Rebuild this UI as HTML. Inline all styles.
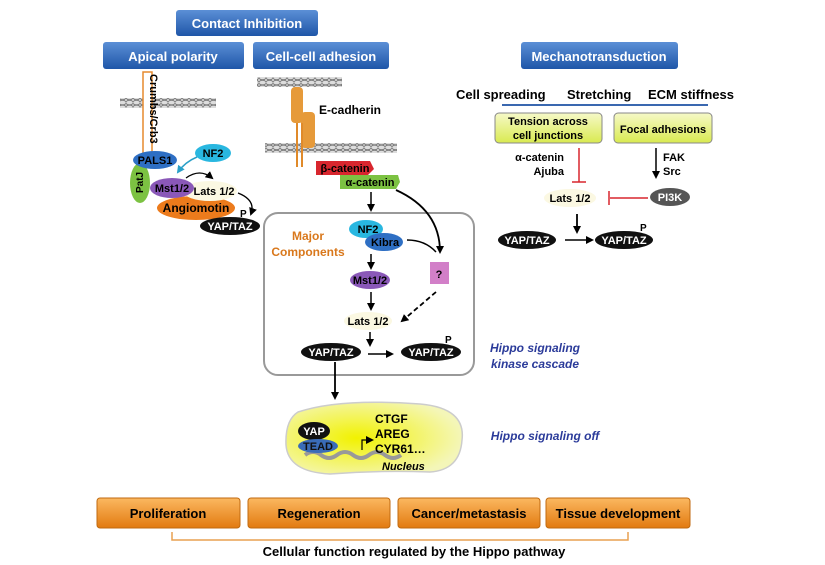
<!DOCTYPE html>
<html><head><meta charset="utf-8"><style>
body{margin:0;background:#fff}
svg{display:block;font-family:"Liberation Sans",sans-serif;font-weight:bold}
</style></head><body>
<svg width="825" height="565" viewBox="0 0 825 565" xmlns="http://www.w3.org/2000/svg">
<defs>
<linearGradient id="bl" x1="0" y1="0" x2="0" y2="1"><stop offset="0" stop-color="#5b8fd6"/><stop offset="1" stop-color="#1f56a8"/></linearGradient>
<linearGradient id="or" x1="0" y1="0" x2="0" y2="1"><stop offset="0" stop-color="#fbb860"/><stop offset="1" stop-color="#e27a10"/></linearGradient>
<linearGradient id="yl" x1="0" y1="0" x2="0" y2="1"><stop offset="0" stop-color="#f6f9c8"/><stop offset="1" stop-color="#d9ea50"/></linearGradient>
<radialGradient id="nuc" cx="0.4" cy="0.5" r="0.6"><stop offset="0" stop-color="#f2f200"/><stop offset="1" stop-color="#f4f6b8"/></radialGradient>
<marker id="ar" markerWidth="8" markerHeight="8" refX="6" refY="4" orient="auto" markerUnits="userSpaceOnUse"><path d="M0,0 L8,4 L0,8z" fill="#000"/></marker>
<marker id="arc" markerWidth="8" markerHeight="8" refX="6" refY="4" orient="auto" markerUnits="userSpaceOnUse"><path d="M0,0 L8,4 L0,8z" fill="#2aa0c8"/></marker>
<pattern id="mem" width="7" height="10" patternUnits="userSpaceOnUse"><ellipse cx="3.5" cy="2.6" rx="3.8" ry="2.3" fill="#ddd" stroke="#777" stroke-width="1"/><ellipse cx="3.5" cy="7.4" rx="3.8" ry="2.3" fill="#ddd" stroke="#777" stroke-width="1"/></pattern>
</defs>
<!-- header boxes -->
<g font-size="13" fill="#fff" text-anchor="middle">
<rect x="176" y="10" width="142" height="26" rx="3" fill="url(#bl)"/><text x="247" y="28">Contact Inhibition</text>
<rect x="103" y="42" width="141" height="27" rx="3" fill="url(#bl)"/><text x="173" y="61">Apical polarity</text>
<rect x="253" y="42" width="136" height="27" rx="3" fill="url(#bl)"/><text x="321" y="61">Cell-cell adhesion</text>
<rect x="521" y="42" width="157" height="27" rx="3" fill="url(#bl)"/><text x="599" y="61">Mechanotransduction</text>
</g>
<!-- membranes -->
<rect x="120" y="98" width="96" height="10" fill="url(#mem)"/>
<rect x="257" y="77" width="85" height="10" fill="url(#mem)"/>
<rect x="265" y="143" width="132" height="10" fill="url(#mem)"/>
<!-- crumbs -->
<rect x="143" y="72" width="9" height="88" fill="#fff" stroke="#e58a2e" stroke-width="1.5"/>
<text transform="translate(150,74) rotate(90)" font-size="11">Crumbs/Crb3</text>
<!-- apical complex -->
<ellipse cx="140" cy="183" rx="10" ry="20" fill="#7cc242"/><text transform="translate(143,193) rotate(-90)" font-size="10">PatJ</text>
<ellipse cx="155" cy="160" rx="22" ry="9" fill="#2e6fc4"/><text x="155" y="164" font-size="11" fill="#000" text-anchor="middle">PALS1</text>
<ellipse cx="213" cy="153" rx="18" ry="9" fill="#29b7e0"/><text x="213" y="157" font-size="11" text-anchor="middle">NF2</text>
<path d="M197,157 Q185,162 178,172" fill="none" stroke="#2aa0c8" stroke-width="1.5" marker-end="url(#arc)"/>
<ellipse cx="196" cy="208" rx="39" ry="12" fill="#ec7b1c"/><text x="196" y="212" font-size="12" text-anchor="middle">Angiomotin</text>
<ellipse cx="210" cy="191" rx="27" ry="10" fill="#fbf8e2"/><text x="214" y="195" font-size="11" text-anchor="middle">Lats 1/2</text>
<ellipse cx="172" cy="188" rx="22" ry="10" fill="#8a58b8"/><text x="172" y="192" font-size="11" text-anchor="middle">Mst1/2</text>
<path d="M186,178 Q200,168 212,178" fill="none" stroke="#000" stroke-width="1.3" marker-end="url(#ar)"/>
<path d="M238,193 Q256,200 251,214" fill="none" stroke="#000" stroke-width="1.3" marker-end="url(#ar)"/>
<ellipse cx="230" cy="226" rx="30" ry="9" fill="#111"/><text x="230" y="230" font-size="11" fill="#fff" text-anchor="middle">YAP/TAZ</text><text x="240" y="217" font-size="10">P</text>
<!-- E-cadherin -->
<g fill="#e69a3a">
<rect x="291" y="87" width="12" height="36" rx="4"/><rect x="301" y="112" width="14" height="36" rx="4"/>
</g>
<line x1="297" y1="123" x2="297" y2="167" stroke="#e08a2a" stroke-width="2"/><line x1="302" y1="123" x2="302" y2="167" stroke="#e08a2a" stroke-width="2"/>
<text x="319" y="114" font-size="12">E-cadherin</text>
<polygon points="316,161 370,161 374,169 368,175 316,175" fill="#d8262e"/><text x="345" y="172" font-size="11" text-anchor="middle">β-catenin</text>
<polygon points="340,175 398,175 400,182 396,189 340,189" fill="#7cc242"/><text x="370" y="186" font-size="11" text-anchor="middle">α-catenin</text>
<!-- central box -->
<rect x="264" y="213" width="210" height="162" rx="14" fill="#fff" stroke="#999" stroke-width="2"/>
<line x1="371" y1="192" x2="371" y2="210" stroke="#000" stroke-width="1.5" marker-end="url(#ar)"/>
<path d="M396,190 Q440,210 440,252" fill="none" stroke="#000" stroke-width="1.8" marker-end="url(#ar)"/>
<text x="308" y="240" font-size="12" fill="#d9781c" text-anchor="middle">Major</text><text x="308" y="256" font-size="12" fill="#d9781c" text-anchor="middle">Components</text>
<ellipse cx="366" cy="229" rx="17" ry="9" fill="#29b7e0"/><text x="368" y="233" font-size="11" text-anchor="middle">NF2</text>
<ellipse cx="384" cy="242" rx="19" ry="9" fill="#2e6fc4"/><text x="385" y="246" font-size="11" text-anchor="middle">Kibra</text>
<path d="M407,240 Q425,240 436,252" fill="none" stroke="#000" stroke-width="1.5"/>
<line x1="371" y1="254" x2="371" y2="268" stroke="#000" stroke-width="1.5" marker-end="url(#ar)"/>
<ellipse cx="370" cy="280" rx="20" ry="9" fill="#8a58b8"/><text x="370" y="284" font-size="11" text-anchor="middle">Mst1/2</text>
<rect x="430" y="262" width="19" height="22" fill="#d27fc8"/><text x="439" y="278" font-size="11" text-anchor="middle">?</text>
<line x1="371" y1="292" x2="371" y2="309" stroke="#000" stroke-width="1.5" marker-end="url(#ar)"/>
<ellipse cx="368" cy="321" rx="24" ry="9" fill="#fbf8e2"/><text x="368" y="325" font-size="11" text-anchor="middle">Lats 1/2</text>
<line x1="436" y1="292" x2="402" y2="321" stroke="#000" stroke-width="1.8" stroke-dasharray="5,3" marker-end="url(#ar)"/>
<line x1="370" y1="332" x2="370" y2="345" stroke="#000" stroke-width="1.5" marker-end="url(#ar)"/>
<ellipse cx="331" cy="352" rx="30" ry="9" fill="#111"/><text x="331" y="356" font-size="11" fill="#fff" text-anchor="middle">YAP/TAZ</text>
<line x1="368" y1="354" x2="392" y2="354" stroke="#000" stroke-width="1.5" marker-end="url(#ar)"/>
<ellipse cx="431" cy="352" rx="30" ry="9" fill="#111"/><text x="431" y="356" font-size="11" fill="#fff" text-anchor="middle">YAP/TAZ</text><text x="445" y="343" font-size="10">P</text>
<g font-size="12" font-style="italic" fill="#2b3b9a" text-anchor="middle"><text x="535" y="352">Hippo signaling</text><text x="535" y="368">kinase cascade</text><text x="545" y="440">Hippo signaling off</text></g>
<line x1="335" y1="362" x2="335" y2="398" stroke="#000" stroke-width="1.8" marker-end="url(#ar)"/>
<!-- nucleus -->
<path d="M298,412 Q340,398 420,404 Q466,408 462,440 Q460,470 430,472 Q380,470 330,474 Q288,472 286,445 Q285,420 298,412z" fill="url(#nuc)" stroke="#ccc" stroke-width="1.5"/>
<path d="M305,455 q8,-6 16,0 q8,6 16,0 q8,-6 16,0 q8,6 16,0 q8,-6 16,0 q8,6 16,0" fill="none" stroke="#999" stroke-width="4"/>
<ellipse cx="314" cy="431" rx="16" ry="9" fill="#111"/><text x="314" y="435" font-size="11" fill="#fff" text-anchor="middle">YAP</text>
<ellipse cx="318" cy="446" rx="20" ry="7" fill="#3a6cb8"/><text x="318" y="450" font-size="11" fill="#111" text-anchor="middle">TEAD</text>
<path d="M362,450 V440 H372" fill="none" stroke="#000" stroke-width="1.2" marker-end="url(#ar)"/>
<g font-size="12"><text x="375" y="423">CTGF</text><text x="375" y="438">AREG</text><text x="375" y="453">CYR61…</text></g>
<text x="382" y="470" font-size="11" font-style="italic">Nucleus</text>
<!-- right -->
<g font-size="13"><text x="456" y="99">Cell spreading</text><text x="567" y="99">Stretching</text><text x="648" y="99">ECM stiffness</text></g>
<line x1="502" y1="105" x2="708" y2="105" stroke="#3a68b0" stroke-width="2"/>
<rect x="495" y="113" width="107" height="30" rx="4" fill="url(#yl)" stroke="#888"/>
<text x="548" y="125" font-size="11" text-anchor="middle">Tension across</text><text x="548" y="139" font-size="11" text-anchor="middle">cell junctions</text>
<rect x="614" y="113" width="98" height="30" rx="4" fill="url(#yl)" stroke="#888"/>
<text x="663" y="133" font-size="11" text-anchor="middle">Focal adhesions</text>
<g font-size="11" text-anchor="end"><text x="564" y="161">α-catenin</text><text x="564" y="175">Ajuba</text></g>
<line x1="579" y1="148" x2="579" y2="182" stroke="#d8262e" stroke-width="1.5"/><line x1="572" y1="182" x2="586" y2="182" stroke="#d8262e" stroke-width="1.5"/>
<line x1="656" y1="148" x2="656" y2="177" stroke="#000" stroke-width="1.5" marker-end="url(#ar)"/>
<g font-size="11"><text x="663" y="161">FAK</text><text x="663" y="175">Src</text></g>
<ellipse cx="570" cy="198" rx="26" ry="9" fill="#fbf8e2"/><text x="570" y="202" font-size="11" text-anchor="middle">Lats 1/2</text>
<ellipse cx="670" cy="197" rx="20" ry="9" fill="#555"/><text x="670" y="201" font-size="11" fill="#fff" text-anchor="middle">PI3K</text>
<line x1="648" y1="198" x2="610" y2="198" stroke="#d8262e" stroke-width="1.5"/><line x1="609" y1="191" x2="609" y2="205" stroke="#d8262e" stroke-width="1.5"/>
<line x1="577" y1="214" x2="577" y2="232" stroke="#000" stroke-width="1.8" marker-end="url(#ar)"/>
<ellipse cx="527" cy="240" rx="29" ry="9" fill="#111"/><text x="527" y="244" font-size="11" fill="#fff" text-anchor="middle">YAP/TAZ</text>
<line x1="565" y1="240" x2="592" y2="240" stroke="#000" stroke-width="1.5" marker-end="url(#ar)"/>
<ellipse cx="624" cy="240" rx="29" ry="9" fill="#111"/><text x="624" y="244" font-size="11" fill="#fff" text-anchor="middle">YAP/TAZ</text><text x="640" y="231" font-size="10">P</text>
<!-- bottom -->
<g font-size="13" text-anchor="middle">
<rect x="97" y="498" width="143" height="30" rx="3" fill="url(#or)" stroke="#c06a10"/><text x="168" y="518">Proliferation</text>
<rect x="248" y="498" width="142" height="30" rx="3" fill="url(#or)" stroke="#c06a10"/><text x="319" y="518">Regeneration</text>
<rect x="398" y="498" width="142" height="30" rx="3" fill="url(#or)" stroke="#c06a10"/><text x="469" y="518">Cancer/metastasis</text>
<rect x="546" y="498" width="144" height="30" rx="3" fill="url(#or)" stroke="#c06a10"/><text x="618" y="518">Tissue development</text>
</g>
<path d="M172,532 V540 H628 V532" fill="none" stroke="#e8a050" stroke-width="1.5"/>
<text x="414" y="556" font-size="13" text-anchor="middle">Cellular function regulated by the Hippo pathway</text>
</svg>
</body></html>
